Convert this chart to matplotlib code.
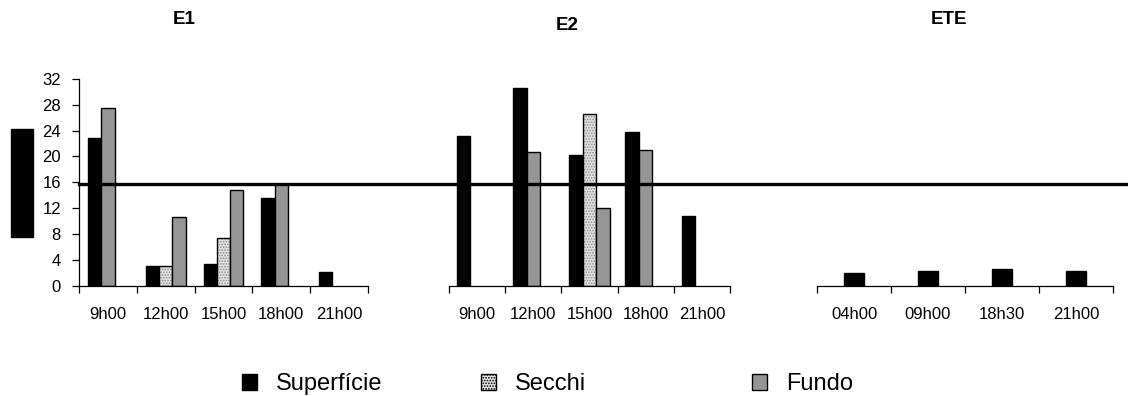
import numpy as np
import matplotlib
matplotlib.use("Agg")
import matplotlib.pyplot as plt
from matplotlib.patches import Patch, Rectangle
from matplotlib.lines import Line2D
from matplotlib.transforms import blended_transform_factory

plt.rcParams['font.family'] = ['Liberation Sans', 'DejaVu Sans']
plt.rcParams['hatch.linewidth'] = 0.8

# series names
series = ['Superfície', 'Secchi', 'Fundo']

# E1
e1_labels = ['9h00', '12h00', '15h00', '18h00', '21h00']
e1_sup = [22.9, 3.1, 3.4, 13.6, 2.2]
e1_secchi = [None, 3.1, 7.4, None, None]
e1_fundo = [27.4, 10.7, 14.8, 15.8, None]

# E2
e2_labels = ['9h00', '12h00', '15h00', '18h00', '21h00']
e2_sup = [23.2, 30.6, 20.2, 23.8, 10.8]
e2_secchi = [None, None, 26.5, None, None]
e2_fundo = [None, 20.7, 12.0, 21.0, None]

# ETE
ete_labels = ['04h00', '09h00', '18h30', '21h00']
ete_sup = [1.96, 2.26, 2.57, 2.26]

# reference line
limit = 15.7

W, H = 1128, 396


def draw_bar(ax, x, v, k, width):
    if k == 0:
        ax.bar(x, v, width, color='black', edgecolor='black', linewidth=1.0)
    elif k == 1:
        # dotted fill, then black outline on top
        ax.bar(x, v, width, color='#e2e2e2', edgecolor='#8c8c8c', hatch='......', linewidth=0)
        ax.bar(x, v, width, fill=False, edgecolor='black', linewidth=1.0)
    else:
        ax.bar(x, v, width, color='#969696', edgecolor='black', linewidth=1.0)


def draw_groups(ax, labels, cols, width, nslots):
    for i in range(len(labels)):
        present = [(k, col[i]) for k, col in enumerate(cols) if col[i] is not None]
        for slot, (k, v) in enumerate(present):
            x = i + (slot - (nslots - 1) / 2) * width
            draw_bar(ax, x, v, k, width)


def setup_axis(ax, labels, show_y):
    n = len(labels)
    ax.set_xlim(-0.5, n - 0.5)
    ax.set_ylim(0, 32)
    ax.spines['top'].set_visible(False)
    ax.spines['right'].set_visible(False)
    ax.spines['bottom'].set_linewidth(0.9)
    ax.set_xticks(range(n))
    ax.set_xticklabels(labels)
    ax.set_xticks(np.arange(-0.5, n), minor=True)
    ax.tick_params(axis='x', which='major', length=0, pad=15, labelsize=12)
    ax.tick_params(axis='x', which='minor', length=5, width=0.9, direction='out')
    if show_y:
        ax.set_yticks(np.arange(0, 33, 4))
        ax.tick_params(axis='y', length=5, width=0.9, pad=8, labelsize=12)
        ax.spines['left'].set_linewidth(0.9)
    else:
        ax.spines['left'].set_visible(False)
        ax.set_yticks([])


fig = plt.figure(figsize=(W / 100, H / 100), dpi=100)

ax1 = fig.add_axes([79 / W, 1 - 286 / H, 289 / W, 207.3 / H])
ax2 = fig.add_axes([449 / W, 1 - 286 / H, 281 / W, 207.3 / H])
ax3 = fig.add_axes([817 / W, 1 - 286 / H, 296 / W, 207.3 / H])

draw_groups(ax1, e1_labels, [e1_sup, e1_secchi, e1_fundo], 0.23, 3)
draw_groups(ax2, e2_labels, [e2_sup, e2_secchi, e2_fundo], 0.24, 3)
draw_groups(ax3, ete_labels, [ete_sup], 0.26, 1)

setup_axis(ax1, e1_labels, True)
setup_axis(ax2, e2_labels, False)
setup_axis(ax3, ete_labels, False)

# titles
fig.text(184 / W, 1 - 20 / H, 'E1', fontsize=13.5, fontweight='bold', ha='center', va='center')
fig.text(567 / W, 1 - 25 / H, 'E2', fontsize=13.5, fontweight='bold', ha='center', va='center')
fig.text(949 / W, 1 - 20 / H, 'ETE', fontsize=13.5, fontweight='bold', ha='center', va='center')

# horizontal reference line across all panels
trans = blended_transform_factory(fig.transFigure, ax1.transData)
fig.add_artist(Line2D([79 / W, 1.0], [limit, limit], transform=trans,
                      color='black', linewidth=2.4, clip_on=False, zorder=5))

# black block left of the axis (as in the original)
fig.add_artist(Rectangle((11 / W, 1 - 237 / H), 22 / W, 108 / H,
                         transform=fig.transFigure, color='black'))

# legend, one entry at a time
handles = [
    Patch(facecolor='black', edgecolor='black'),
    Patch(facecolor='#e2e2e2', edgecolor='black', hatch='......'),
    Patch(facecolor='#969696', edgecolor='black'),
]
leg_x = [242, 481, 752]
for h, name, lx in zip(handles, series, leg_x):
    leg = fig.legend([h], [name], loc='center left', bbox_to_anchor=(lx / W, 1 - 384 / H),
                     frameon=False, fontsize=17, handlelength=0.65, handleheight=0.65,
                     handletextpad=0.8, borderpad=0, borderaxespad=0)

fig.savefig('out.png', dpi=100)
